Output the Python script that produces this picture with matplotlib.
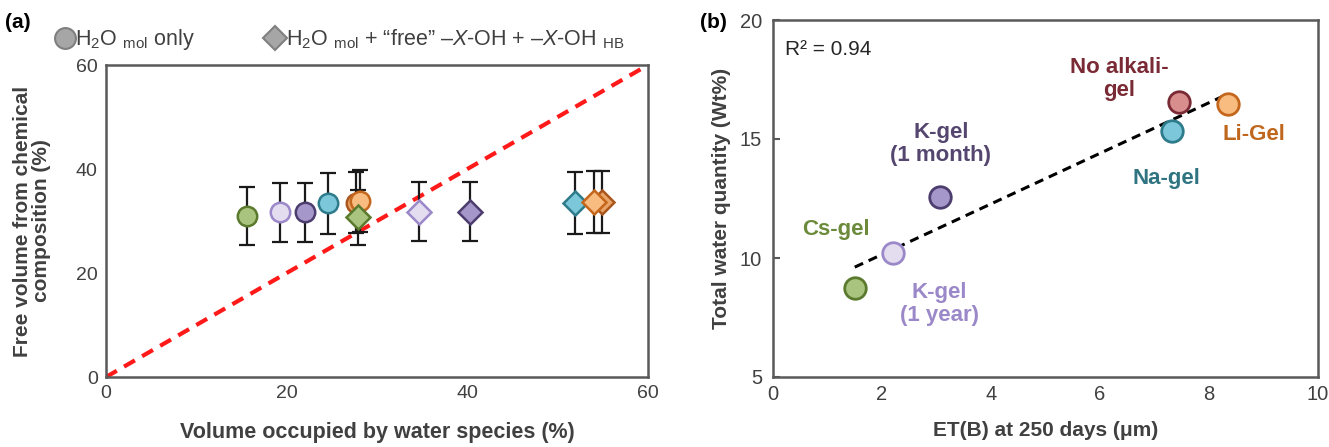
import numpy as np
import matplotlib
matplotlib.use("Agg")
import matplotlib.pyplot as plt
from matplotlib.lines import Line2D

plt.rcParams['font.family'] = ['Liberation Sans', 'DejaVu Sans']
plt.rcParams['mathtext.fontset'] = 'custom'
plt.rcParams['mathtext.rm'] = 'Liberation Sans'
plt.rcParams['mathtext.it'] = 'Liberation Sans:italic'
plt.rcParams['mathtext.bf'] = 'Liberation Sans:bold'

# ---------------- data ----------------
gels = ['Cs-gel', 'K-gel (1 year)', 'K-gel (1 month)', 'Na-gel', 'No alkali-gel', 'Li-Gel']
fill_colors = ['#a9c47f', '#e4ddf0', '#a597c9', '#7cc8da', '#d98e8e', '#f8bb80']
edge_colors = ['#5a7a2e', '#9b88c9', '#4c3d6e', '#2e7b8b', '#7a2a35', '#c4671c']
label_colors = ['#6b8a3a', '#9b88c9', '#54466f', '#2f7480', '#7a2a35', '#c0671e']
# panel (a) colours (No alkali shown in orange-brown tones in the picture)
a_fill = ['#a9c47f', '#e4ddf0', '#a597c9', '#7cc8da', '#eaa468', '#f8bb80']
a_edge = ['#5a7a2e', '#9b88c9', '#4c3d6e', '#2e7b8b', '#a8561c', '#c4671c']

# panel (a): H2O_mol only (circles)
circ_x = [15.6, 19.3, 22.0, 24.6, 27.7, 28.1]
circ_y = [31.0, 31.7, 31.7, 33.4, 33.5, 33.9]
circ_err = [5.6, 5.7, 5.7, 5.9, 5.9, 6.0]
# panel (a): H2O_mol + free X-OH + X-OH_HB (diamonds)
diam_x = [27.9, 34.7, 40.3, 51.9, 54.9, 54.0]
diam_y = [30.7, 31.8, 31.8, 33.4, 33.6, 33.6]
diam_err = [5.3, 5.7, 5.7, 5.95, 6.0, 6.0]

# panel (b)
et_b = [1.5, 2.21, 3.06, 7.32, 7.45, 8.35]
water_total = [8.73, 10.22, 12.58, 15.34, 16.57, 16.46]
b_labels = ['Cs-gel', 'K-gel\n(1 year)', 'K-gel\n(1 month)', 'Na-gel', 'No alkali-\ngel', 'Li-Gel']
b_label_pos = [(1.16, 11.18), (3.05, 8.07), (3.08, 14.8), (7.21, 13.36), (6.35, 17.52), (8.83, 15.17)]
r2_text = 'R² = 0.94'

text_col = '#404040'
spine_col = '#595959'

fig = plt.figure(figsize=(13.29, 4.47), dpi=100)
axa = fig.add_axes([106/1329, 1-377/447, 542/1329, 312/447])
axb = fig.add_axes([773/1329, 1-377/447, 545/1329, 357/447])

# ---------------- panel (a) ----------------
axa.plot([0, 60], [0, 60], color='#ff1a1a', lw=3, ls=(0, (3, 2)), zorder=2)
for i in range(len(gels)):
    axa.errorbar(circ_x[i], circ_y[i], yerr=circ_err[i], fmt='none', ecolor='#1a1a1a',
                 elinewidth=1.6, capsize=6, capthick=1.6, zorder=3)
    axa.errorbar(diam_x[i], diam_y[i], yerr=diam_err[i], fmt='none', ecolor='#1a1a1a',
                 elinewidth=1.6, capsize=6, capthick=1.6, zorder=3)
for i in range(len(gels)):
    axa.plot(circ_x[i], circ_y[i], 'o', ms=14, mfc=a_fill[i], mec=a_edge[i], mew=1.8, zorder=4)
for i in range(len(gels)):
    axa.plot(diam_x[i], diam_y[i], 'D', ms=12, mfc=a_fill[i], mec=a_edge[i], mew=1.8, zorder=4)

axa.set_xlim(0, 60)
axa.set_ylim(0, 60)
axa.set_xticks([0, 20, 40, 60])
axa.set_yticks([0, 20, 40, 60])
axa.tick_params(length=0, labelsize=14, labelcolor=text_col, pad=6)
for s in axa.spines.values():
    s.set_color(spine_col)
    s.set_linewidth(1.8)
axa.set_xlabel('Volume occupied by water species (%)', fontsize=15.5, fontweight='bold',
               color=text_col, labelpad=14)
axa.set_ylabel('Free volume from chemical\ncomposition (%)', fontsize=15, fontweight='bold',
               color=text_col, labelpad=18, linespacing=1.0)

handles = [Line2D([], [], ls='none', marker='o', ms=15, mfc='#a6a6a6', mec='#7f7f7f', mew=1.5),
           Line2D([], [], ls='none', marker='D', ms=12, mfc='#a6a6a6', mec='#7f7f7f', mew=1.5)]
leg_labels = [r'H$_2$O $_{\mathrm{mol}}$ only',
              r'H$_2$O $_{\mathrm{mol}}$ + “free” –$\mathit{X}$-OH + –$\mathit{X}$-OH $_{\mathrm{HB}}$']
leg = axa.legend(handles, leg_labels, ncol=2, frameon=False, loc='lower left',
                 bbox_to_anchor=(-0.12, 1.0), fontsize=15.5, handletextpad=0.0,
                 columnspacing=3.2, handlelength=1.0, borderaxespad=0.2)
for t in leg.get_texts():
    t.set_color(text_col)

fig.text(5/1329, 1-28/447, '(a)', fontsize=15, fontweight='bold', color='black')
fig.text(700/1329, 1-28/447, '(b)', fontsize=15, fontweight='bold', color='black')

# ---------------- panel (b) ----------------
coef = np.polyfit(et_b, water_total, 1)
xf = np.array([min(et_b), 8.25])
axb.plot(xf, np.polyval(coef, xf), color='black', lw=2.2, ls=(0, (3, 2)), zorder=2)
for i in range(len(gels)):
    axb.plot(et_b[i], water_total[i], 'o', ms=15.5, mfc=fill_colors[i], mec=edge_colors[i],
             mew=2.0, zorder=3)
    axb.text(b_label_pos[i][0], b_label_pos[i][1], b_labels[i], ha='center', va='center',
             fontsize=16, fontweight='bold', color=label_colors[i], linespacing=1.1)
axb.text(0.22, 18.75, r2_text, fontsize=15, color='#262626', va='center')

axb.set_xlim(0, 10)
axb.set_ylim(5, 20)
axb.set_xticks([0, 2, 4, 6, 8, 10])
axb.set_yticks([5, 10, 15, 20])
axb.tick_params(axis='y', direction='in', length=5, width=1.5, color=spine_col,
                labelsize=14.5, labelcolor=text_col, pad=8)
axb.tick_params(axis='x', length=0, labelsize=14.5, labelcolor=text_col, pad=6)
for s in axb.spines.values():
    s.set_color(spine_col)
    s.set_linewidth(1.8)
axb.set_xlabel('ET(B) at 250 days (μm)', fontsize=15, fontweight='bold', color=text_col,
               labelpad=12)
axb.set_ylabel('Total water quantity (Wt%)', fontsize=15, fontweight='bold', color=text_col,
               labelpad=6)

fig.savefig('out.png', dpi=100)
